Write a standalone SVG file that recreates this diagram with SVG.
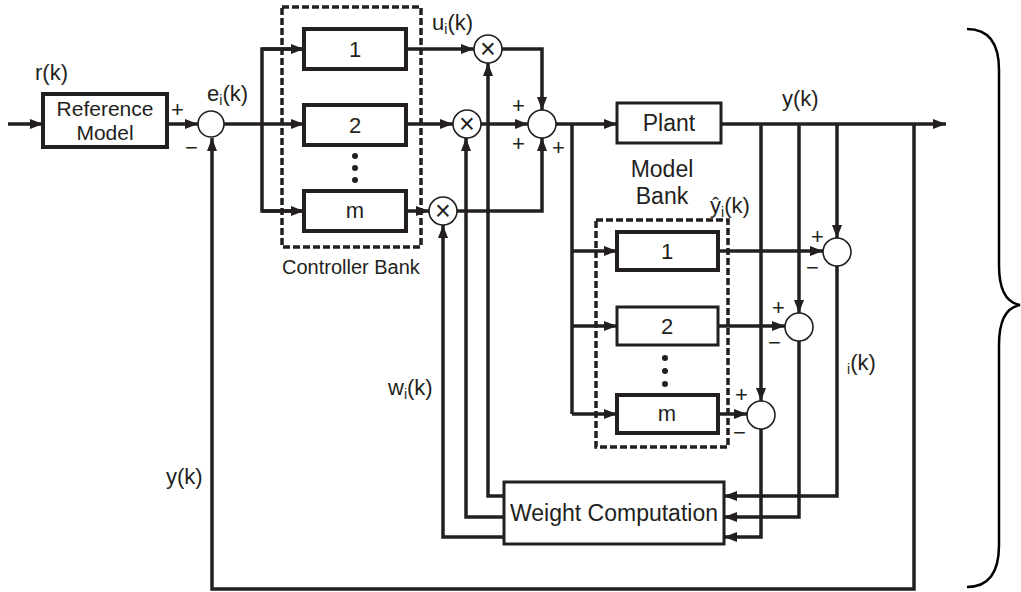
<svg xmlns="http://www.w3.org/2000/svg" width="1021" height="592" viewBox="0 0 1021 592">
<style>
  .ln{fill:none;stroke:#231f20;stroke-width:3.5;stroke-linejoin:miter}
  .la{fill:none;stroke:#231f20;stroke-width:3.5;marker-end:url(#arr)}
  .blk{fill:#fff;stroke:#231f20;stroke-width:4}
  .blt{fill:#fff;stroke:#231f20;stroke-width:3}
  .dash{fill:none;stroke:#231f20;stroke-width:3.5;stroke-dasharray:7 3}
  .sum{fill:#fff;stroke:#231f20;stroke-width:1.6}
  .t{font-family:"Liberation Sans",Arial,sans-serif;font-size:22px;fill:#231f20}
  .c{text-anchor:middle}
  .sub{font-size:14px}
  .mul{font-family:"Liberation Sans",Arial,sans-serif;font-size:27px;fill:#231f20;text-anchor:middle}
  .dot{fill:#231f20}
  .brace{fill:none;stroke:#000;stroke-width:2.5}
</style>
<defs>
  <marker id="arr" viewBox="0 0 13 10" refX="13" refY="5" markerWidth="13" markerHeight="10" orient="auto" markerUnits="userSpaceOnUse">
    <path d="M0,0 L13,5 L0,10 z" fill="#231f20"/>
  </marker>
</defs>
<rect width="1021" height="592" fill="#fff"/>

<g id="connectors">
  <line class="la" x1="8" y1="124" x2="43" y2="124"/>
  <line class="la" x1="167" y1="124" x2="198" y2="124"/>
  <line class="ln" x1="224" y1="124" x2="262" y2="124"/>
  <polyline class="ln" points="304,49 262,49 262,211 304,211"/>
  <line class="la" x1="262" y1="49" x2="304" y2="49"/>
  <line class="la" x1="262" y1="124" x2="304" y2="124"/>
  <line class="la" x1="262" y1="211" x2="304" y2="211"/>
  <line class="la" x1="406" y1="49" x2="474" y2="49"/>
  <line class="la" x1="406" y1="124" x2="453" y2="124"/>
  <line class="la" x1="406" y1="211" x2="429" y2="211"/>
  <polyline class="la" points="502,49 542,49 542,110"/>
  <line class="la" x1="481" y1="124" x2="528" y2="124"/>
  <polyline class="la" points="457,211 542,211 542,138"/>
  <line class="la" x1="556" y1="124" x2="617" y2="124"/>
  <polyline class="ln" points="572,124 572,414"/>
  <line class="la" x1="572" y1="251" x2="617" y2="251"/>
  <line class="la" x1="572" y1="326" x2="617" y2="326"/>
  <line class="la" x1="572" y1="414" x2="617" y2="414"/>
  <line class="la" x1="721" y1="124" x2="946" y2="124"/>
  <line class="la" x1="761" y1="124" x2="761" y2="401"/>
  <line class="la" x1="799" y1="124" x2="799" y2="313"/>
  <line class="la" x1="837" y1="124" x2="837" y2="238"/>
  <line class="la" x1="718" y1="251" x2="823" y2="251"/>
  <line class="la" x1="718" y1="326" x2="785" y2="326"/>
  <line class="la" x1="718" y1="414" x2="747" y2="414"/>
  <polyline class="la" points="837,266 837,496 724,496"/>
  <polyline class="la" points="799,341 799,517 724,517"/>
  <polyline class="la" points="761,429 761,537 724,537"/>
  <polyline class="la" points="504,496 488,496 488,63"/>
  <polyline class="la" points="504,517 466,517 466,138"/>
  <polyline class="la" points="504,537 443,537 443,225"/>
  <polyline class="la" points="914,124 914,589 212,589 212,138"/>
</g>

<g id="reference-model">
  <rect class="blk" x="43" y="94" width="124" height="53"/>
  <text class="t c" x="105" y="116" style="font-size:21px">Reference</text>
  <text class="t c" x="105" y="140" style="font-size:21px">Model</text>
</g>

<g id="sum-error">
  <circle class="sum" cx="211" cy="124" r="13"/>
  <text class="t" x="171" y="117">+</text>
  <text class="t" x="185" y="155">−</text>
</g>

<g id="controller-bank">
  <rect class="dash" x="282" y="7" width="139" height="240"/>
  <rect class="blk" x="304" y="29" width="102" height="40"/>
  <text class="t c" x="355" y="57">1</text>
  <rect class="blk" x="304" y="105" width="102" height="40"/>
  <text class="t c" x="355" y="133">2</text>
  <circle class="dot" cx="355" cy="156" r="3"/>
  <circle class="dot" cx="355" cy="168" r="3"/>
  <circle class="dot" cx="355" cy="180" r="3"/>
  <rect class="blk" x="304" y="191" width="102" height="40"/>
  <text class="t c" x="355" y="218">m</text>
  <text class="t" x="282" y="274" style="font-size:20px">Controller Bank</text>
</g>

<g id="multiplier-1">
  <circle class="sum" cx="488" cy="49" r="14"/>
  <text class="mul" x="488" y="58">×</text>
</g>
<g id="multiplier-2">
  <circle class="sum" cx="467" cy="124" r="14"/>
  <text class="mul" x="467" y="133">×</text>
</g>
<g id="multiplier-m">
  <circle class="sum" cx="443" cy="211" r="14"/>
  <text class="mul" x="443" y="220">×</text>
</g>

<g id="sum-control">
  <circle class="sum" cx="542" cy="124" r="14"/>
  <text class="t" x="512" y="113">+</text>
  <text class="t" x="512" y="151">+</text>
  <text class="t" x="552" y="155">+</text>
</g>

<g id="plant">
  <rect class="blt" x="617" y="103" width="104" height="40"/>
  <text class="t c" x="669" y="131" style="font-size:23px">Plant</text>
</g>

<g id="model-bank">
  <rect class="dash" x="596" y="220" width="132" height="227"/>
  <rect class="blk" x="617" y="232" width="101" height="38"/>
  <text class="t c" x="667" y="259">1</text>
  <rect class="blt" x="617" y="307" width="101" height="38"/>
  <text class="t c" x="667" y="334">2</text>
  <circle class="dot" cx="665" cy="358" r="3"/>
  <circle class="dot" cx="665" cy="371" r="3"/>
  <circle class="dot" cx="665" cy="384" r="3"/>
  <rect class="blk" x="617" y="395" width="101" height="38"/>
  <text class="t c" x="667" y="421">m</text>
  <text class="t c" x="662" y="177" style="font-size:23px">Model</text>
  <text class="t c" x="662" y="204" style="font-size:23px">Bank</text>
</g>

<g id="comparator-1">
  <circle class="sum" cx="837" cy="252" r="14"/>
  <text class="t" x="811" y="244">+</text>
  <text class="t" x="806" y="275">−</text>
</g>
<g id="comparator-2">
  <circle class="sum" cx="799" cy="327" r="14"/>
  <text class="t" x="772" y="315">+</text>
  <text class="t" x="768" y="350">−</text>
</g>
<g id="comparator-m">
  <circle class="sum" cx="761" cy="415" r="14"/>
  <text class="t" x="735" y="402">+</text>
  <text class="t" x="733" y="440">−</text>
</g>

<g id="weight-computation">
  <rect class="blt" x="504" y="482" width="220" height="62"/>
  <text class="t c" x="614" y="521" style="font-size:23px">Weight Computation</text>
</g>

<g id="labels">
  <text class="t" x="35" y="80">r(k)</text>
  <text class="t" x="207" y="101">e<tspan class="sub" dy="4">i</tspan><tspan dy="-4">(k)</tspan></text>
  <text class="t" x="432" y="30">u<tspan class="sub" dy="4">i</tspan><tspan dy="-4">(k)</tspan></text>
  <text class="t" x="782" y="106">y(k)</text>
  <text class="t" x="710" y="213">ŷ<tspan class="sub" dy="4">i</tspan><tspan dy="-4">(k)</tspan></text>
  <text class="t" x="847" y="370"><tspan class="sub" dy="4">i</tspan><tspan dy="-4">(k)</tspan></text>
  <text class="t" x="388" y="395">w<tspan class="sub" dy="4">i</tspan><tspan dy="-4">(k)</tspan></text>
  <text class="t" x="166" y="484">y(k)</text>
</g>

<g id="brace">
  <path class="brace" d="M967,29 C990,29 999,45 999,70 L999,265 C999,292 1008,303 1020,305 C1008,307 999,318 999,345 L999,545 C999,570 990,587 967,587"/>
</g>
</svg>
